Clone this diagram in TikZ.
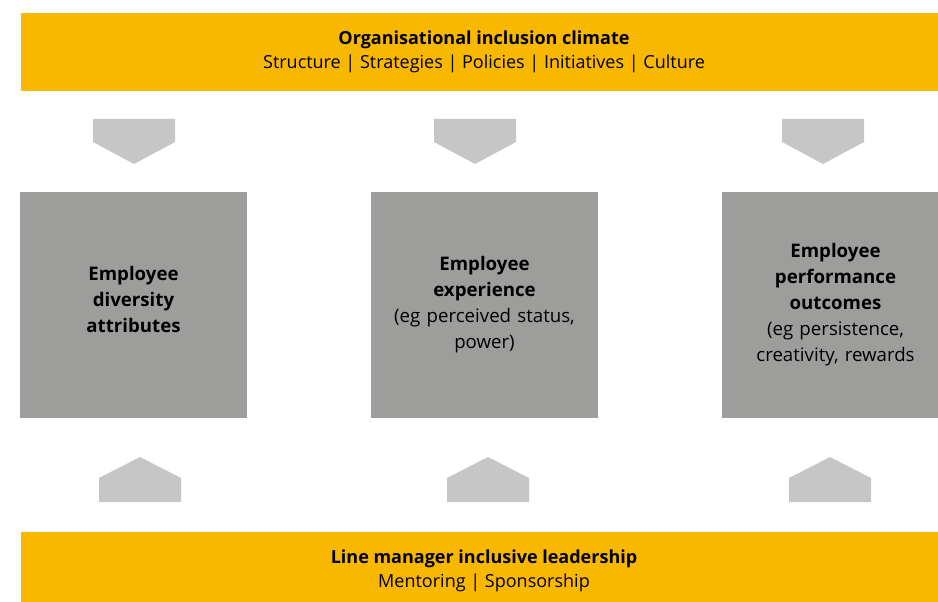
\documentclass[tikz,border=0pt]{standalone}
\usepackage{fontspec}
\setmainfont{Open Sans}
\usepackage{tikz}
\usetikzlibrary{positioning,calc}

\definecolor{climateyellow}{HTML}{F9B800}
\definecolor{factorgrey}{HTML}{9D9D9C}
\definecolor{chevrongrey}{HTML}{C6C6C6}

\begin{document}
\begin{tikzpicture}[
    x=0.75pt, y=-0.75pt,
    band/.style={fill=climateyellow, inner sep=0pt, minimum width=694.5pt, minimum height=58.5pt,
                 align=center, font=\fontsize{13.5}{18}\selectfont},
    factor/.style={fill=factorgrey, inner sep=0pt, minimum width=170.25pt, minimum height=169.5pt,
                   text width=150pt, align=center, font=\fontsize{14}{19.5}\selectfont},
    chevron/.style={fill=chevrongrey}
]
    \useasboundingbox (0,0) rectangle (938,602);

    % Bands top and bottom
    \node[band] (climate) at (484,52)
        {\textbf{Organisational inclusion climate}\\Structure | Strategies | Policies | Initiatives | Culture};
    \node[band] (leadership) at (484,570.5)
        {\textbf{Line manager inclusive leadership}\\Mentoring | Sponsorship};

    % Three employee boxes
    \node[factor, text depth=48pt] (attributes) at (133.5,305)
        {\textbf{Employee}\\\textbf{diversity}\\\textbf{attributes}};
    \node[factor] (experience) at (484.5,305)
        {\textbf{Employee}\\\textbf{experience}\\(eg perceived status,\\power)};
    \node[factor] (outcomes) at (835.5,305)
        {\textbf{Employee}\\\textbf{performance}\\\textbf{outcomes}\\(eg persistence,\\creativity, rewards};

    % Chevrons pointing down from the climate band
    \foreach \cx in {134,475,823}
        \fill[chevron] (\cx-41,119) -- (\cx+41,119) -- (\cx+41,142) -- (\cx,164) -- (\cx-41,142) -- cycle;

    % Chevrons pointing up from the leadership band
    \foreach \cx in {140,488,830}
        \fill[chevron] (\cx-41,502) -- (\cx+41,502) -- (\cx+41,478) -- (\cx,457) -- (\cx-41,478) -- cycle;

\end{tikzpicture}
\end{document}
